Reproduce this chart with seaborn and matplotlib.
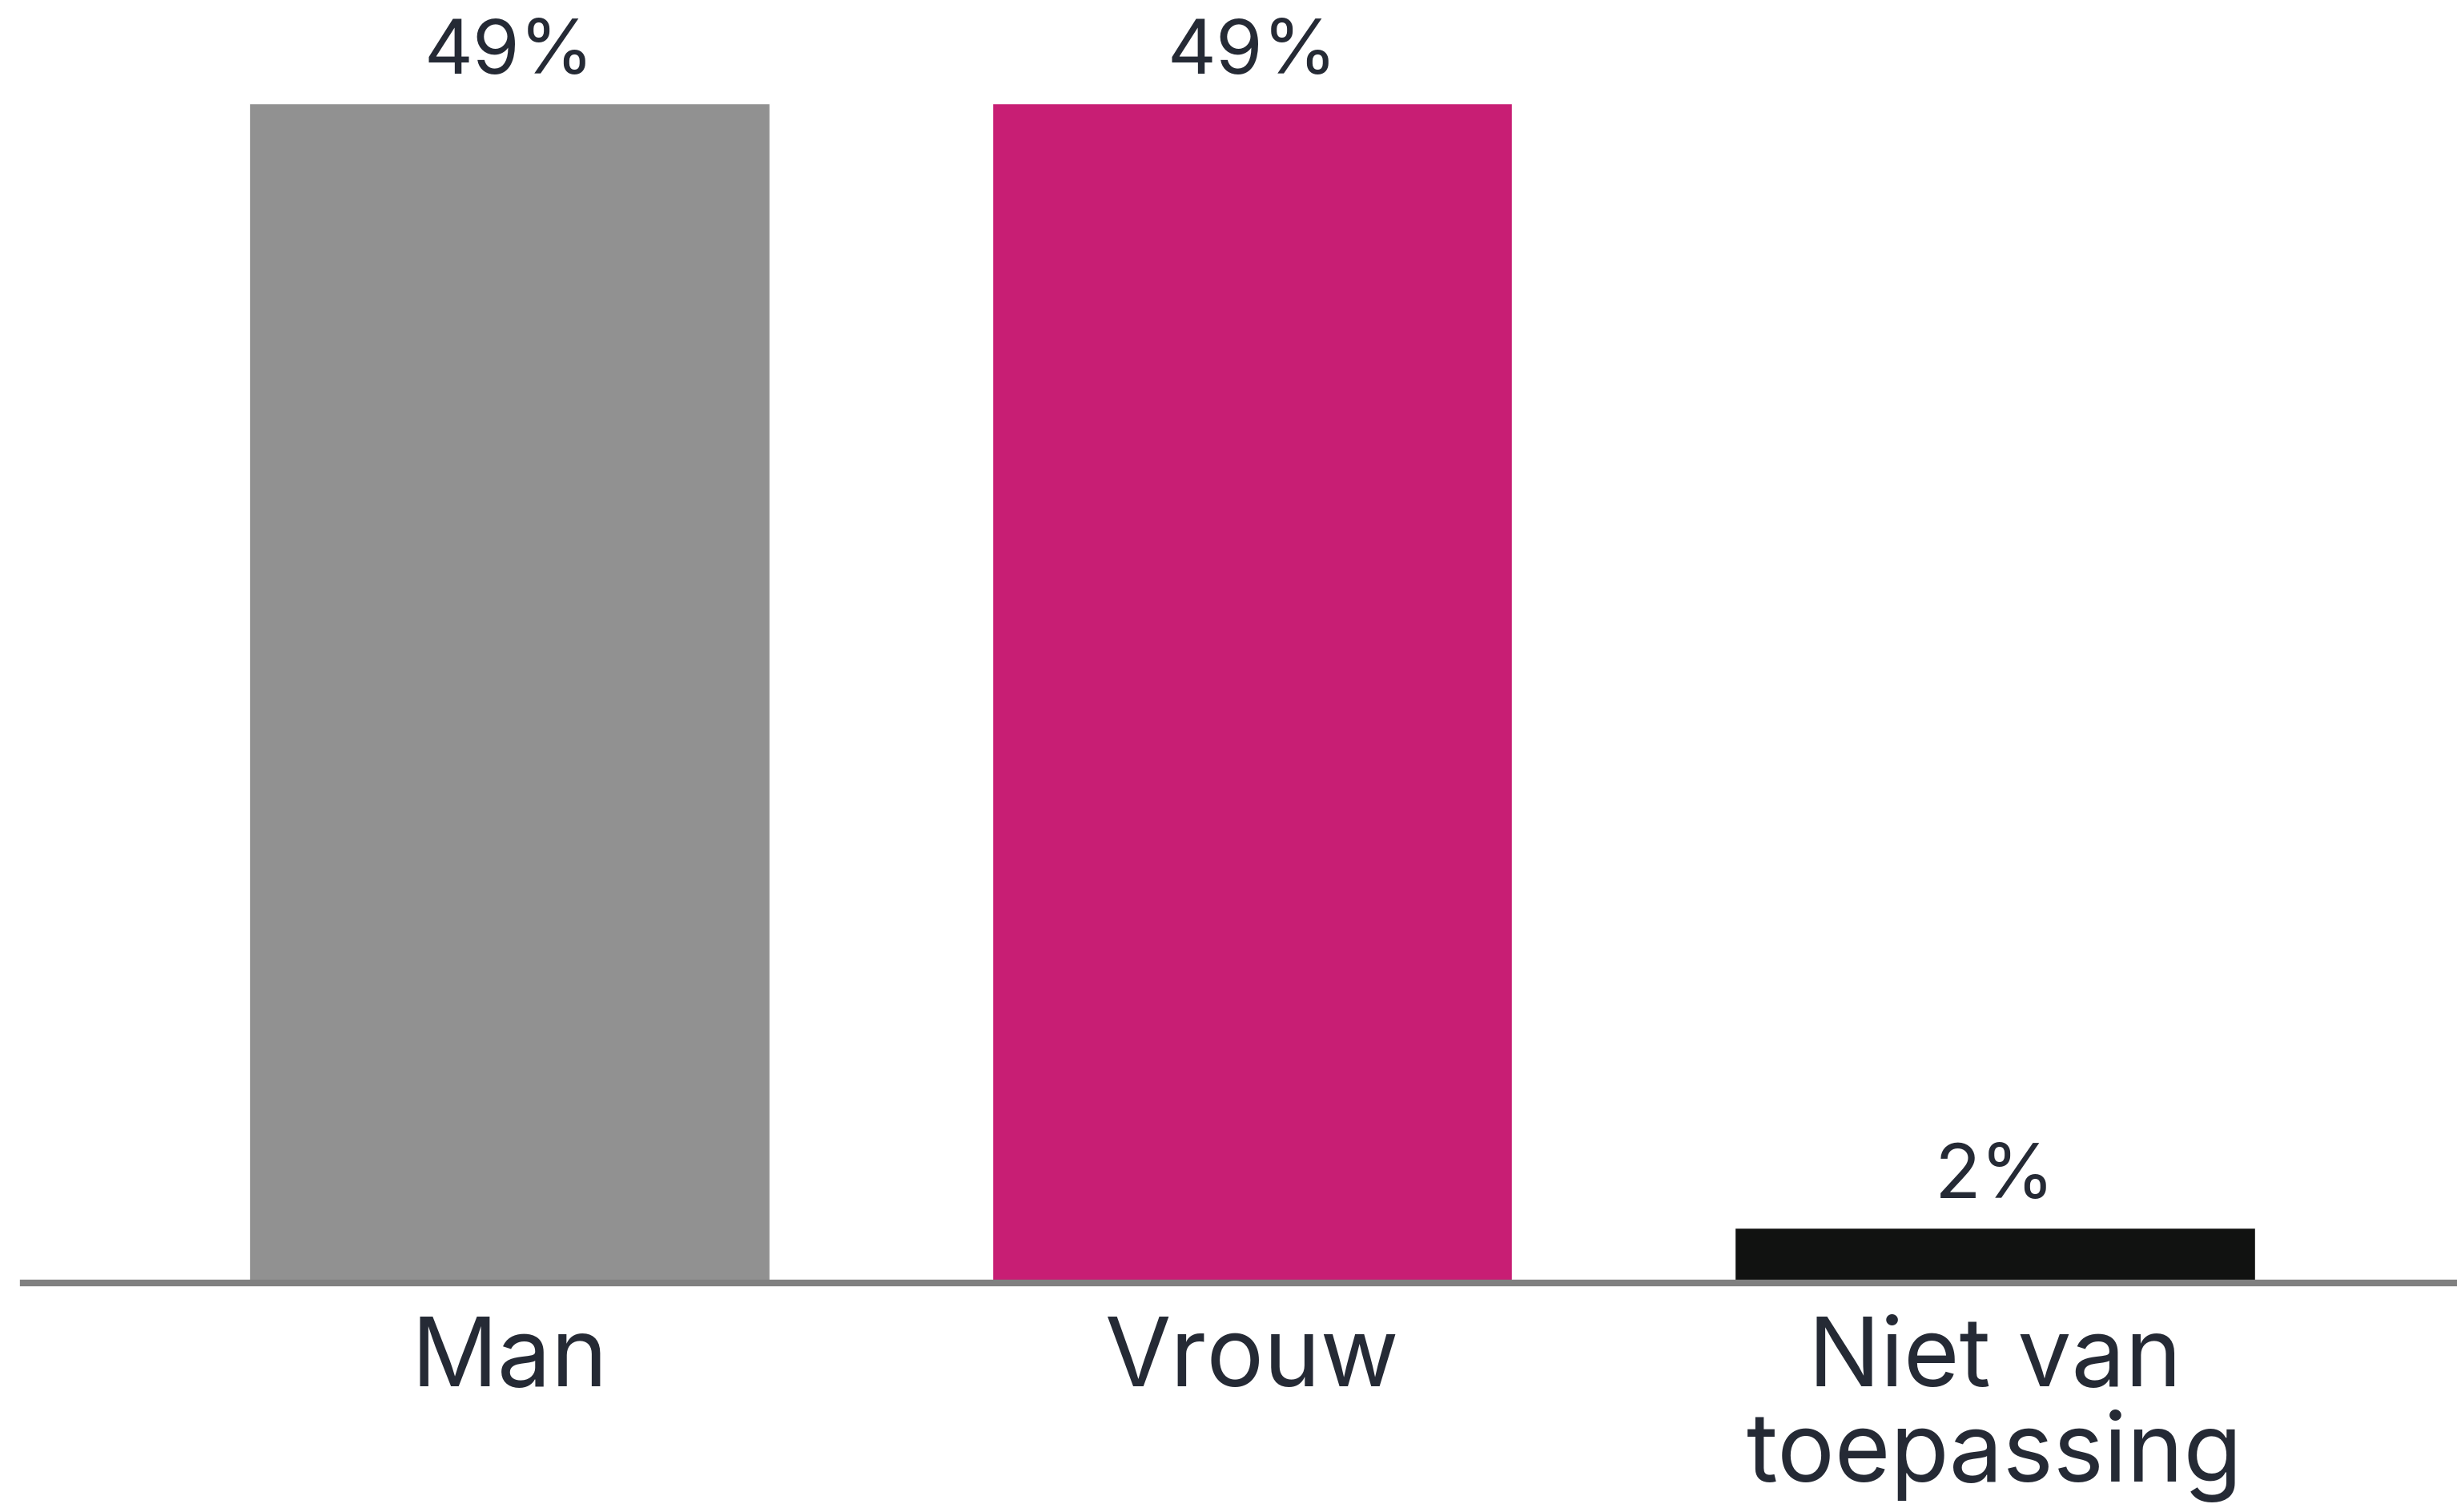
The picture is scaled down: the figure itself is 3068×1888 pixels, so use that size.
import pandas as pd
import matplotlib.pyplot as plt
import seaborn as sns

# Chart data
categories = ['Man', 'Vrouw', 'Niet van\ntoepassing']
values = [49, 49, 2.3]
labels = ['49%', '49%', '2%']
colors = ['#919191', '#C81E74', '#111211']

df = pd.DataFrame({'categorie': categories, 'percentage': values})

sns.set_style('white')
plt.rcParams['font.family'] = ['Inter', 'DejaVu Sans']

fig = plt.figure(figsize=(30.68, 18.88), dpi=100)
ax = fig.add_axes([0.0096, 0.1513, 0.9904, 0.8487])

sns.barplot(data=df, x='categorie', y='percentage', hue='categorie',
            palette=colors, width=0.7, legend=False, saturation=1, ax=ax)

# Value labels above bars
for bar, lab in zip(ax.patches, labels):
    ax.annotate(lab, (bar.get_x() + bar.get_width() / 2, bar.get_height()),
                xytext=(0, 13), textcoords='offset points',
                ha='center', va='bottom', fontsize=68, color='#252a35')

ax.set_ylim(0, 53.3)
ax.set_xlim(-0.654, 2.622)
ax.set_xlabel('')
ax.set_ylabel('')
ax.set_yticks([])
ax.tick_params(axis='x', length=0, pad=30, labelsize=86, labelcolor='#252a35')
for t in ax.get_xticklabels():
    t.set_linespacing(1.05)

sns.despine(ax=ax, left=True, top=True, right=True)
ax.spines['bottom'].set_color('#808080')
ax.spines['bottom'].set_linewidth(6)

plt.savefig('out.png', dpi=100, facecolor='white')
